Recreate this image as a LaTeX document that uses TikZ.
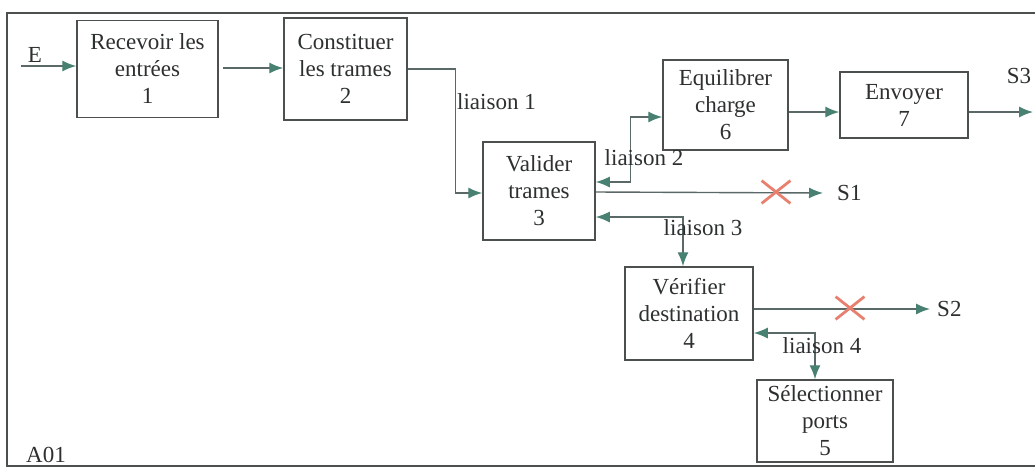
\documentclass[tikz,border=0pt]{standalone}
\usepackage{fontspec}
\setmainfont{Liberation Serif}
\usetikzlibrary{arrows.meta,shapes.misc,positioning}
\definecolor{linec}{RGB}{90,105,103}
\definecolor{tipc}{RGB}{72,128,114}
\definecolor{boxc}{RGB}{75,80,78}
\definecolor{txtc}{RGB}{45,48,48}
\definecolor{crossc}{RGB}{232,128,112}
\tikzset{
  fn/.style={font=\rmfamily\fontsize{23}{27}\selectfont},
  box/.style={draw=boxc, line width=1.5pt, fill=white, align=center, text=txtc, fn, inner sep=0pt},
  lab/.style={text=txtc, fn, inner sep=0pt},
  tip/.tip={Latex[length=14pt,width=11pt,color=tipc]},
  conn/.style={draw=linec, line width=1.4pt, -tip},
  bconn/.style={draw=linec, line width=1.4pt, tip-tip},
  xmark/.style={cross out, draw=crossc, line width=2.8pt, minimum width=26pt, minimum height=20pt, inner sep=0pt},
  frame/.style={draw=boxc, line width=2pt}
}
\begin{document}
\begin{tikzpicture}[x=1pt,y=-1pt]
\useasboundingbox (0,0) rectangle (1035,472);
\draw[frame] (1045,13) -- (7,13) -- (7,466) -- (1045,466);

\node[box, minimum width=141pt, minimum height=97pt] (b1) at (147.5,69) {Recevoir les\\entrées\\1};
\node[box, minimum width=123pt, minimum height=102pt] (b2) at (345.5,69) {Constituer\\les trames\\2};
\node[box, minimum width=112pt, minimum height=98pt] (b3) at (539,191) {Valider\\trames\\3};
\node[box, minimum width=125pt, minimum height=90pt] (b6) at (725.5,105) {Equilibrer\\charge\\6};
\node[box, minimum width=128pt, minimum height=66pt] (b7) at (904,105) {Envoyer\\7};
\node[box, minimum width=128pt, minimum height=93pt] (b4) at (689,313.5) {Vérifier\\destination\\4};
\node[box, minimum width=136pt, minimum height=82pt] (b5) at (825,421) {Sélectionner\\ports\\5};

\coordinate (e) at (21,66);
\node[lab] (elab) at (35,55) {E};
\node[lab, anchor=west] (s1) at (837,193) {S1};
\node[lab, anchor=west] (s2) at (937,309) {S2};
\node[lab] (s3) at (1019,76) {S3};
\coordinate (s3end) at (1033,112);
\node[lab] (a01) at (46,455) {A01};

\draw[conn] (e) -- ([yshift=3pt]b1.west);
\draw[conn] ([xshift=4pt,yshift=1pt]b1.east) -- ([yshift=1pt]b2.west);
\draw[conn] (b2.east) -- ++(48,0) |- ([yshift=-2pt]b3.west);
\node[lab, anchor=west] (l1) at (457,102) {liaison 1};

\draw[bconn] ([yshift=9pt]b3.east) -- ++(35,0) |- ([yshift=-12pt]b6.west);
\node[lab] (l2) at (644,158) {liaison 2};

\draw[conn] ([yshift=-1pt]b3.east) -- ([xshift=-14pt]s1.west);
\node[xmark] (x1) at (776,192) {};

\draw[bconn] ([yshift=-26pt]b3.east) -| ([xshift=-6pt]b4.north);
\node[lab] (l3) at (703,228) {liaison 3};

\draw[conn] ([yshift=-7pt]b6.east) -- ([yshift=-7pt]b7.west);
\draw[conn] ([yshift=-7pt]b7.east) -- (s3end);

\draw[conn] ([yshift=4.5pt]b4.east) -- ([xshift=-7pt]s2.west);
\node[xmark] (x2) at (850,308) {};

\draw[bconn] ([yshift=-19.5pt]b4.east) -| ([xshift=-10pt]b5.north);
\node[lab] (l4) at (822,346) {liaison 4};
\end{tikzpicture}
\end{document}
